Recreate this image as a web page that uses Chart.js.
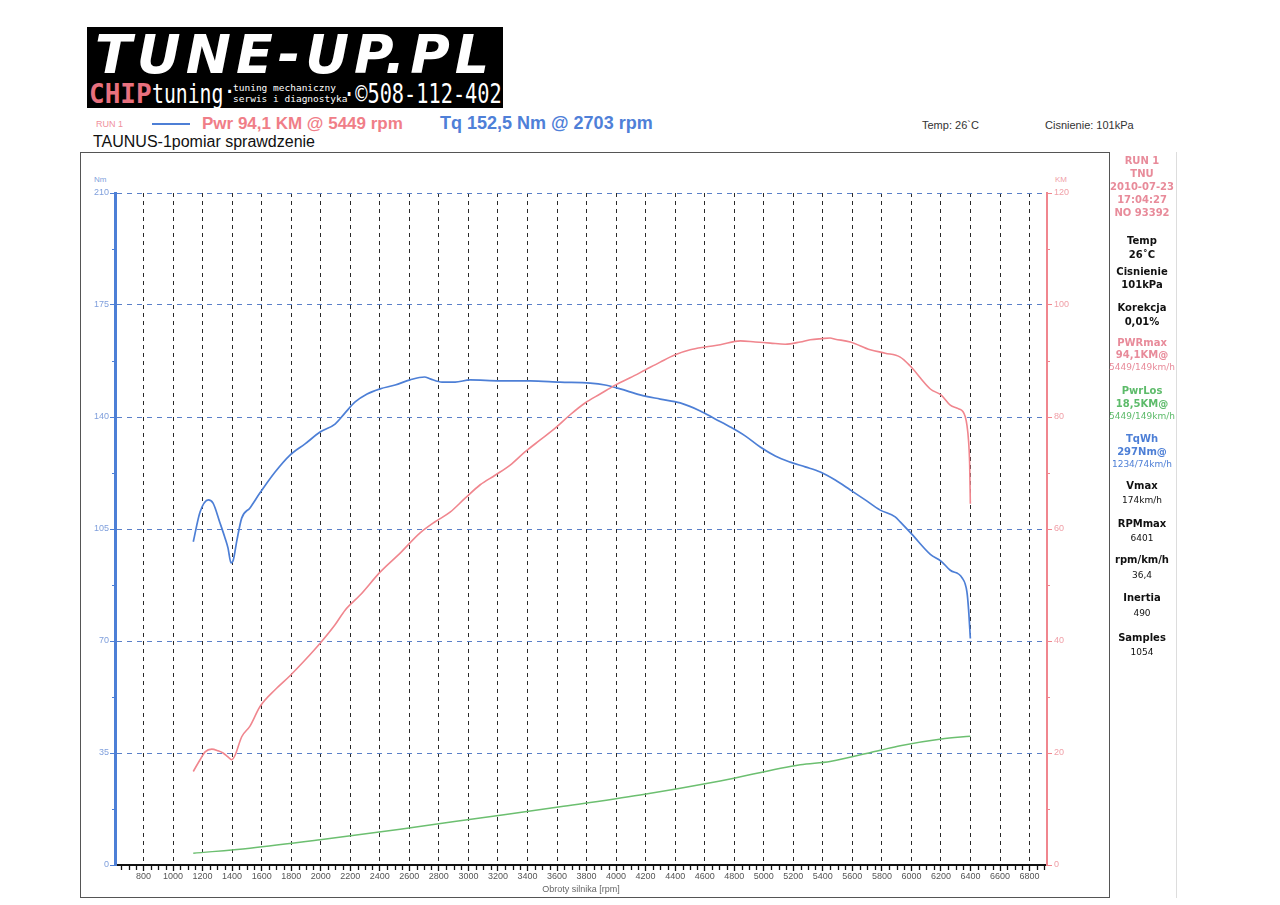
<!DOCTYPE html>
<html>
<head>
<meta charset="utf-8">
<script src="https://cdn.jsdelivr.net/npm/chart.js@4"></script>
<style>
  html, body { margin:0; padding:0; background:#fff; }
  body { width:1280px; height:905px; position:relative; overflow:hidden; font-family:"Liberation Sans", Arial, sans-serif; }
  .abs { position:absolute; white-space:nowrap; }
  #logo { position:absolute; left:87px; top:27px; width:416px; height:81px; background:#000; overflow:hidden; }
  #logo .big { position:absolute; left:8px; top:-4px; font:italic bold 54px "DejaVu Sans", sans-serif; color:#fff; letter-spacing:5px; }
  #logo .mono { position:absolute; font-family:"DejaVu Sans Mono", monospace; color:#fff; white-space:nowrap; transform-origin:left top; }
  #frame { position:absolute; left:80px; top:152px; width:1030px; height:746px; border:1px solid #555; box-sizing:border-box; }
  #wrap { position:absolute; left:80px; top:152px; width:1030px; height:746px; }
  .panel { position:absolute; left:1107px; width:70px; text-align:center; font-size:10px; font-family:"DejaVu Sans", sans-serif; white-space:nowrap; }
  .b { font-weight:bold; }
  .pk { color:#e88b9a; }
  .gr { color:#5dbb6a; }
  .bl { color:#4d7fd6; }
  .bk { color:#111; }
</style>
</head>
<body>
<div id="logo">
  <div class="big">TUNE-UP.PL</div>
  <div class="mono" style="left:2px; top:52px; font-size:26px; font-weight:bold; color:#e8707e;">CHIP</div>
  <div class="mono" style="left:65px; top:52px; font-size:26px; transform:scaleX(0.76);">tuning</div>
  <div class="mono" style="left:136px; top:52px; font-size:22px;">·</div>
  <div class="mono" style="left:146px; top:55px; font-size:9.5px; line-height:11px;">tuning mechaniczny<br>serwis i diagnostyka</div>
  <div class="mono" style="left:256px; top:52px; font-size:26px; transform:scaleX(0.78);">·©508-112-402</div>
</div>

<div class="abs" style="left:96px; top:119px; font-size:9px; color:#f0909c;">RUN 1</div>
<div class="abs" style="left:152px; top:123px; width:38px; height:2px; background:#4d7fd6;"></div>
<div class="abs" style="left:202px; top:114px; font-size:17px; font-weight:bold; color:#f07e88;">Pwr 94,1 KM @ 5449 rpm</div>
<div class="abs" style="left:440px; top:113px; font-size:18px; font-weight:bold; color:#4f80d8;">Tq 152,5 Nm @ 2703 rpm</div>
<div class="abs" style="left:93px; top:133px; font-size:16px; color:#111;">TAUNUS-1pomiar sprawdzenie</div>
<div class="abs" style="left:922px; top:119px; font-size:11px; color:#333;">Temp: 26`C</div>
<div class="abs" style="left:1045px; top:119px; font-size:11px; color:#333;">Cisnienie: 101kPa</div>

<div id="frame"></div>
<div class="abs" style="left:1176px; top:152px; width:1px; height:746px; background:#ddd;"></div>

<div class="abs" style="left:94px; top:175px; font-size:8px; color:#7f9fdc;">Nm</div>
<div class="abs" style="left:1055px; top:175px; font-size:8px; color:#f0a0a8;">KM</div>

<div id="wrap"><canvas id="c" width="1030" height="746"></canvas></div>

<div class="panel b pk" style="top:154px; line-height:13px;">RUN 1<br>TNU<br>2010-07-23<br>17:04:27<br>NO 93392</div>
<div class="panel b bk" style="top:235px;">Temp</div>
<div class="panel b bk" style="top:249px;">26˚C</div>
<div class="panel b bk" style="top:266px;">Cisnienie</div>
<div class="panel b bk" style="top:279px;">101kPa</div>
<div class="panel b bk" style="top:302px;">Korekcja</div>
<div class="panel b bk" style="top:316px;">0,01%</div>
<div class="panel b pk" style="top:337px;">PWRmax</div>
<div class="panel b pk" style="top:349px;">94,1KM@</div>
<div class="panel pk" style="top:362px; font-size:9px;">5449/149km/h</div>
<div class="panel b gr" style="top:385px;">PwrLos</div>
<div class="panel b gr" style="top:398px;">18,5KM@</div>
<div class="panel gr" style="top:411px; font-size:9px;">5449/149km/h</div>
<div class="panel b bl" style="top:433px;">TqWh</div>
<div class="panel b bl" style="top:446px;">297Nm@</div>
<div class="panel bl" style="top:459px; font-size:9px;">1234/74km/h</div>
<div class="panel b bk" style="top:480px;">Vmax</div>
<div class="panel bk" style="top:495px; font-size:9px;">174km/h</div>
<div class="panel b bk" style="top:518px;">RPMmax</div>
<div class="panel bk" style="top:533px; font-size:9px;">6401</div>
<div class="panel b bk" style="top:554px;">rpm/km/h</div>
<div class="panel bk" style="top:570px; font-size:9px;">36,4</div>
<div class="panel b bk" style="top:592px;">Inertia</div>
<div class="panel bk" style="top:608px; font-size:9px;">490</div>
<div class="panel b bk" style="top:632px;">Samples</div>
<div class="panel bk" style="top:647px; font-size:9px;">1054</div>

<script>
// ---- data ----
const tqRpm = [1137,1183,1239,1271,1318,1352,1372,1393,1408,1433,1465,1521,1589,1691,1792,1894,1996,2097,2165,2233,2314,2402,2504,2605,2703,2741,2822,2910,3012,3215,3418,3621,3825,3926,4028,4163,4299,4434,4570,4671,4773,4874,4976,5078,5179,5281,5383,5484,5586,5687,5789,5890,5924,6004,6128,6202,6263,6342,6376,6387,6399];
const tqNm = [101.0,110.3,114.1,113.1,106.9,102.2,99.1,94.4,95.3,101.6,108.4,111.6,116.3,122.8,128.1,131.6,135.3,137.8,141.3,144.7,147.2,148.8,150.0,151.6,152.5,151.9,150.9,150.9,151.6,151.3,151.3,150.9,150.6,150.0,148.8,146.9,145.6,144.4,141.9,139.4,136.9,134.1,130.6,127.8,125.9,124.4,122.8,120.3,117.2,114.1,110.9,108.8,107.2,103.3,97.1,94.9,92.1,89.8,85.3,79.8,70.8];

const pwrRpm = [1137,1183,1217,1262,1305,1339,1372,1397,1420,1465,1521,1589,1691,1792,1894,1996,2097,2165,2267,2402,2538,2673,2775,2876,2978,3080,3181,3283,3385,3486,3588,3689,3790,3892,3994,4095,4197,4299,4400,4502,4604,4705,4841,4942,5044,5145,5247,5315,5396,5449,5484,5586,5721,5823,5924,5992,6128,6202,6263,6317,6364,6387,6394,6399];
const pwrKm = [16.7,18.8,20.2,20.7,20.4,20.0,19.3,18.8,19.6,22.9,24.8,28.3,31.3,33.8,36.6,39.6,42.9,45.5,48.2,52.3,55.7,59.3,61.3,63.0,65.5,67.9,69.6,71.4,73.8,75.9,78.0,80.4,82.5,84.1,85.7,87.0,88.4,89.8,91.1,92.0,92.5,92.9,93.6,93.4,93.2,93.0,93.4,93.8,94.0,94.1,93.9,93.4,92.0,91.4,90.7,89.1,85.0,83.9,82.1,81.5,80.1,75.7,71.8,64.5];

const lossRpm = [1137,1521,1996,2538,3080,3621,4163,4705,5247,5449,5789,5924,6202,6399];
const lossKm = [2.1,3.0,4.5,6.4,8.4,10.4,12.5,15.0,17.9,18.5,20.5,21.3,22.5,23.0];

const rpmTicks = [800,1000,1200,1400,1600,1800,2000,2200,2400,2600,2800,3000,3200,3400,3600,3800,4000,4200,4400,4600,4800,5000,5200,5400,5600,5800,6000,6200,6400,6600,6800];
const nmTicks = [0,35,70,105,140,175,210];
const kmTicks = [0,20,40,60,80,100,120];

const toXY = (xs, ys) => xs.map((x, i) => ({x, y: ys[i]}));

const BLUE = '#4d7fd6', PINK = '#f0868e', GREEN = '#6cbf70';

const minorTicks = {
  id: 'minorTicks',
  afterDraw(chart) {
    const {ctx, scales} = chart;
    const x = scales.x, yl = scales.yNm, yr = scales.yKM;
    ctx.save();
    ctx.lineWidth = 1.3;
    ctx.strokeStyle = '#111';
    for (let v = Math.ceil(x.min / 50) * 50; v <= x.max; v += 50) {
      if (v % 200 === 0 && v >= 800 && v <= 6800) continue;
      const px = Math.round(x.getPixelForValue(v)) + 0.5;
      ctx.beginPath(); ctx.moveTo(px, x.top); ctx.lineTo(px, x.top + 5); ctx.stroke();
    }
    ctx.lineWidth = 1;
    ctx.strokeStyle = BLUE;
    for (let i = 0; i < nmTicks.length - 1; i++) {
      const py = Math.round(yl.getPixelForValue((nmTicks[i] + nmTicks[i+1]) / 2)) + 0.5;
      ctx.beginPath(); ctx.moveTo(yl.right - 3, py); ctx.lineTo(yl.right, py); ctx.stroke();
    }
    ctx.strokeStyle = PINK;
    for (let i = 0; i < kmTicks.length - 1; i++) {
      const py = Math.round(yr.getPixelForValue((kmTicks[i] + kmTicks[i+1]) / 2)) + 0.5;
      ctx.beginPath(); ctx.moveTo(yr.left, py); ctx.lineTo(yr.left + 3, py); ctx.stroke();
    }
    ctx.restore();
  }
};

new Chart(document.getElementById('c'), {
  type: 'line',
  data: {
    datasets: [
      { label: 'PwrLos', data: toXY(lossRpm, lossKm), yAxisID: 'yKM', borderColor: GREEN, borderWidth: 1.5, pointRadius: 0, cubicInterpolationMode: 'monotone' },
      { label: 'Pwr', data: toXY(pwrRpm, pwrKm), yAxisID: 'yKM', borderColor: PINK, borderWidth: 1.6, pointRadius: 0, cubicInterpolationMode: 'monotone' },
      { label: 'Tq', data: toXY(tqRpm, tqNm), yAxisID: 'yNm', borderColor: BLUE, borderWidth: 1.7, pointRadius: 0, cubicInterpolationMode: 'monotone' }
    ]
  },
  options: {
    responsive: false,
    animation: false,
    events: [],
    layout: { padding: { top: 41, left: 0, right: 0, bottom: 0 } },
    plugins: { legend: { display: false }, tooltip: { enabled: false } },
    scales: {
      x: {
        type: 'linear', min: 607, max: 6918,
        afterBuildTicks: s => { s.ticks = rpmTicks.map(v => ({value: v})); },
        afterFit: s => { s.height = 33; },
        ticks: { autoSkip: false, maxRotation: 0, padding: 0, color: '#555', font: { size: 9, family: 'Liberation Sans' }, callback: v => String(v) },
        grid: { color: '#2a2a2a', lineWidth: 1, tickLength: 6, tickColor: '#111', tickWidth: 1.3 },
        border: { color: '#111', width: 2, dash: [4, 4] },
        title: { display: true, text: 'Obroty silnika [rpm]', color: '#666', font: { size: 9, family: 'Liberation Sans' }, padding: { top: 1, bottom: 3 } }
      },
      yNm: {
        position: 'left', min: 0, max: 210,
        afterBuildTicks: s => { s.ticks = nmTicks.map(v => ({value: v})); },
        afterFit: s => { s.width = 35; },
        ticks: { padding: 1, color: '#7f9fdc', font: { size: 9, family: 'Liberation Sans' }, callback: v => String(v) },
        grid: { color: '#5b80c8', lineWidth: 1, tickLength: 5, tickColor: BLUE, tickWidth: 1 },
        border: { color: BLUE, width: 3, dash: [5, 5] }
      },
      yKM: {
        position: 'right', min: 0, max: 120,
        afterBuildTicks: s => { s.ticks = kmTicks.map(v => ({value: v})); },
        afterFit: s => { s.width = 63; },
        ticks: { padding: 2, color: '#f0a0a8', font: { size: 9, family: 'Liberation Sans' }, callback: v => String(v) },
        grid: { drawOnChartArea: false, tickLength: 5, tickColor: PINK, tickWidth: 1 },
        border: { color: PINK, width: 2 }
      }
    }
  },
  plugins: [minorTicks]
});
</script>
</body>
</html>
